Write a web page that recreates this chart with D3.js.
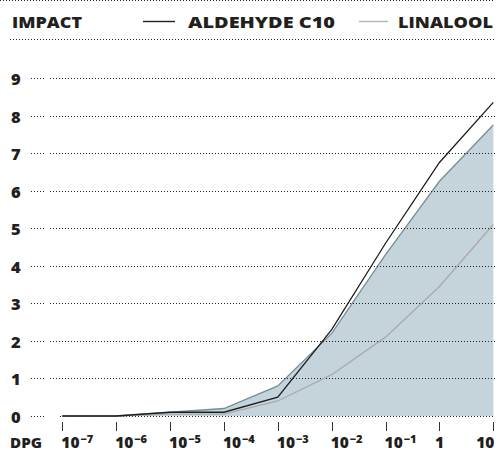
<!DOCTYPE html>
<html><head><meta charset="utf-8">
<script src="https://cdn.jsdelivr.net/npm/d3@7"></script>
<style>
html,body{margin:0;padding:0;background:#fff;}
svg{display:block;}
text{font-family:"Open Sans",sans-serif;font-weight:800;fill:#231f20;}
</style></head>
<body>
<script>
// Data
const doses = [1e-7, 1e-6, 1e-5, 1e-4, 1e-3, 1e-2, 1e-1, 1, 10];
const doseExponents = ["-7","-6","-5","-4","-3","-2","-1","0","1"];
const areaSeries = [0, 0, 0.1, 0.2, 0.8, 2.2, 4.3, 6.25, 7.75];
const aldehydeC10 = [0, 0, 0.1, 0.1, 0.5, 2.3, 4.6, 6.75, 8.35];
const linalool = [0, 0, 0.05, 0.05, 0.4, 1.1, 2.1, 3.45, 5.1];
const yTicks = [0,1,2,3,4,5,6,7,8,9];
const legendNames = ["ALDEHYDE C10", "LINALOOL"];

const W = 497, H = 452;
const svg = d3.select("body").append("svg").attr("width", W).attr("height", H);

const x = d3.scaleLog().domain([1e-7, 10]).range([62.3, 493.3]);
const y = d3.scaleLinear().domain([0, 9]).range([416, 78]);

// header dotted lines
[0.5, 39.5].forEach((yy,i) => {
  svg.append("line").attr("x1", i ? 10 : 0).attr("x2", 495).attr("y1", yy).attr("y2", yy)
    .attr("stroke", "#222").attr("stroke-width", 1).attr("stroke-dasharray", "1,2");
});

// header
svg.append("text").attr("x", 12).attr("y", 28).attr("font-size", 16.5)
  .attr("textLength", 70).attr("lengthAdjust", "spacingAndGlyphs").text("IMPACT");
// legend
svg.append("line").attr("x1", 143).attr("x2", 175).attr("y1", 21.5).attr("y2", 21.5)
  .attr("stroke", "#222").attr("stroke-width", 1.4);
svg.append("text").attr("x", 188).attr("y", 28).attr("font-size", 16.5)
  .attr("textLength", 147).attr("lengthAdjust", "spacingAndGlyphs").text(legendNames[0]);
svg.append("line").attr("x1", 359).attr("x2", 388).attr("y1", 21.5).attr("y2", 21.5)
  .attr("stroke", "#b5b5b5").attr("stroke-width", 1.4);
svg.append("text").attr("x", 398).attr("y", 28).attr("font-size", 16.5)
  .attr("textLength", 95).attr("lengthAdjust", "spacingAndGlyphs").text(legendNames[1]);

// area
const pts = doses.map((d,i) => ({d, a: areaSeries[i], b: aldehydeC10[i], c: linalool[i]}));
svg.append("path").datum(pts)
  .attr("d", d3.area().x(p => x(p.d)).y0(y(0)).y1(p => y(p.a)))
  .attr("fill", "#c5d3da");
svg.append("path").datum(pts)
  .attr("d", d3.line().x(p => x(p.d)).y(p => y(p.a)))
  .attr("fill", "none").attr("stroke", "#6e929c").attr("stroke-width", 1.3);

// gridlines
const g = svg.append("g");
yTicks.forEach(t => {
  const yy = Math.round(y(t)) + 0.5;
  g.append("line").attr("x1", 31).attr("x2", 46).attr("y1", yy).attr("y2", yy)
    .attr("stroke", "#222").attr("stroke-dasharray", "1,2");
  g.append("line").attr("x1", t === 0 ? 60 : 50).attr("x2", 495).attr("y1", yy).attr("y2", yy)
    .attr("stroke", "#222").attr("stroke-dasharray", "1,2");
  g.append("text").attr("x", 11).attr("y", yy + 6).attr("font-size", 16.5).text(t);
});

// lines
svg.append("path").datum(pts)
  .attr("d", d3.line().x(p => x(p.d)).y(p => y(p.c)))
  .attr("fill", "none").attr("stroke", "#aaaaaa").attr("stroke-width", 1.3);
svg.append("path").datum(pts)
  .attr("d", d3.line().x(p => x(p.d)).y(p => y(p.b)))
  .attr("fill", "none").attr("stroke", "#1e1e1e").attr("stroke-width", 1.3);

// x axis ticks
doses.forEach((d,i) => {
  const xx = Math.round(x(d)) + 0.5;
  svg.append("line").attr("x1", xx).attr("x2", xx).attr("y1", 422).attr("y2", 431)
    .attr("stroke", "#333").attr("stroke-width", 1);
  const e = doseExponents[i];
  const t = svg.append("text").attr("y", 447.5).attr("font-size", 15.5);
  if (e === "0") { t.attr("x", x(d)).attr("text-anchor", "middle").text("1"); }
  else if (e === "1") { t.attr("x", x(d) + 1).attr("text-anchor", "end").text("10"); }
  else {
    t.attr("x", x(d) - 1).attr("text-anchor", "start");
    t.append("tspan").text("10");
    t.append("tspan").attr("dy", -5).attr("font-size", 11).attr("dx", 1).text(e.replace("-", "\u2212"));
  }
});
svg.append("text").attr("x", 10).attr("y", 447.5).attr("font-size", 13.5)
  .attr("textLength", 32).attr("lengthAdjust", "spacingAndGlyphs").text("DPG");
</script>
</body></html>
